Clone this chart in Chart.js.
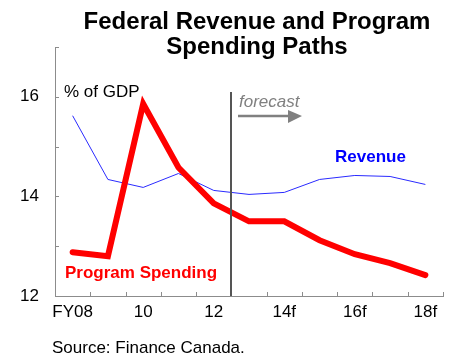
<!DOCTYPE html>
<html>
<head>
<meta charset="utf-8">
<title>Federal Revenue and Program Spending Paths</title>
<script src="https://cdn.jsdelivr.net/npm/chart.js@4/dist/chart.umd.min.js"></script>
<style>
  html, body { margin: 0; padding: 0; background: #fff; }
  #wrap { width: 452px; height: 356px; }
</style>
</head>
<body>
<div id="wrap"><canvas id="chart"></canvas></div>
<script>
const years = ["FY08", "09", "10", "11", "12", "13", "14f", "15f", "16f", "17f", "18f"];
const revenue = [15.62, 14.34, 14.18, 14.46, 14.12, 14.04, 14.08, 14.34, 14.42, 14.40, 14.24];
const programSpending = [12.88, 12.80, 15.86, 14.58, 13.86, 13.50, 13.50, 13.12, 12.84, 12.66, 12.42];
const yTickLabels = { 12: "12", 14: "14", 16: "16" };
const forecastStart = 4.5; // between FY12 and FY13

const FONT = "'Liberation Sans', Arial, sans-serif";
const axisGrey = "#8c8c8c";

// title, notes, forecast marker and the inward tick marks
const decorations = {
  id: "decorations",
  afterDraw(chart) {
    const { ctx, chartArea: a, scales } = chart;
    const x = scales.x, y = scales.y;
    ctx.save();

    // inward ticks on both axes
    ctx.strokeStyle = axisGrey;
    ctx.lineWidth = 1;
    ctx.beginPath();
    y.ticks.forEach((t) => {
      const py = Math.round(y.getPixelForValue(t.value)) + 0.5;
      ctx.moveTo(a.left, py);
      ctx.lineTo(a.left + 4, py);
    });
    const step = (a.right - a.left) / years.length;
    for (let i = 0; i <= years.length; i++) {
      const px = Math.round(a.left + i * step) + 0.5;
      ctx.moveTo(px, a.bottom);
      ctx.lineTo(px, a.bottom - 4);
    }
    ctx.stroke();

    // forecast divider
    const fx = Math.round((x.getPixelForValue(Math.floor(forecastStart)) +
      x.getPixelForValue(Math.ceil(forecastStart))) / 2);
    ctx.strokeStyle = "#555";
    ctx.lineWidth = 2;
    ctx.beginPath();
    ctx.moveTo(fx, 92);
    ctx.lineTo(fx, a.bottom);
    ctx.stroke();

    // forecast arrow
    ctx.strokeStyle = "#808080";
    ctx.fillStyle = "#808080";
    ctx.lineWidth = 2.5;
    ctx.beginPath();
    ctx.moveTo(fx + 7, 116);
    ctx.lineTo(fx + 58, 116);
    ctx.stroke();
    ctx.beginPath();
    ctx.moveTo(fx + 57, 110);
    ctx.lineTo(fx + 71, 116);
    ctx.lineTo(fx + 57, 123);
    ctx.closePath();
    ctx.fill();

    ctx.textBaseline = "alphabetic";
    ctx.textAlign = "left";
    ctx.font = "italic 17px " + FONT;
    ctx.fillText("forecast", fx + 8, 107);

    ctx.fillStyle = "#000";
    ctx.font = "17px " + FONT;
    ctx.fillText("% of GDP", 64, 97);

    ctx.fillStyle = "#0000ff";
    ctx.font = "bold 17px " + FONT;
    ctx.fillText("Revenue", 335, 162);

    ctx.fillStyle = "#ff0000";
    ctx.fillText("Program Spending", 65, 278);

    // title
    ctx.fillStyle = "#000";
    ctx.textAlign = "center";
    ctx.font = "bold 24px " + FONT;
    ctx.fillText("Federal Revenue and Program", 257, 29);
    ctx.fillText("Spending Paths", 257, 54);

    // source line
    ctx.textAlign = "left";
    ctx.font = "17px " + FONT;
    ctx.fillText("Source: Finance Canada.", 52, 353);

    ctx.restore();
  }
};

new Chart(document.getElementById("chart"), {
  type: "line",
  data: {
    labels: years,
    datasets: [
      {
        label: "Program Spending",
        data: programSpending,
        borderColor: "#ff0000",
        borderWidth: 6,
        borderCapStyle: "round",
        pointRadius: 0,
        tension: 0,
      },
      {
        label: "Revenue",
        data: revenue,
        borderColor: "#2a2aff",
        borderWidth: 1,
        pointRadius: 0,
        tension: 0,
      },
    ],
  },
  options: {
    responsive: true,
    maintainAspectRatio: false,
    animation: false,
    events: [],
    layout: { padding: { left: 0, right: 9, top: 47, bottom: 30 } },
    plugins: {
      legend: { display: false },
      tooltip: { enabled: false },
    },
    scales: {
      x: {
        offset: true,
        grid: { display: false, drawTicks: false, offset: true },
        border: { color: axisGrey, width: 1 },
        ticks: {
          autoSkip: false,
          maxRotation: 0,
          padding: 6,
          color: "#000",
          font: { family: FONT, size: 17 },
          callback: (v, i) => (i % 2 === 0 ? years[i] : ""),
        },
        afterFit: (s) => { s.height = 30; },
      },
      y: {
        min: 12,
        max: 17,
        grid: { display: false, drawTicks: false },
        border: { color: axisGrey, width: 1 },
        ticks: {
          stepSize: 1,
          padding: 16,
          color: "#000",
          font: { family: FONT, size: 17 },
          callback: (v) => yTickLabels[v] || "",
        },
        afterFit: (s) => { s.width = 55; },
      },
    },
  },
  plugins: [decorations],
});
</script>
</body>
</html>
